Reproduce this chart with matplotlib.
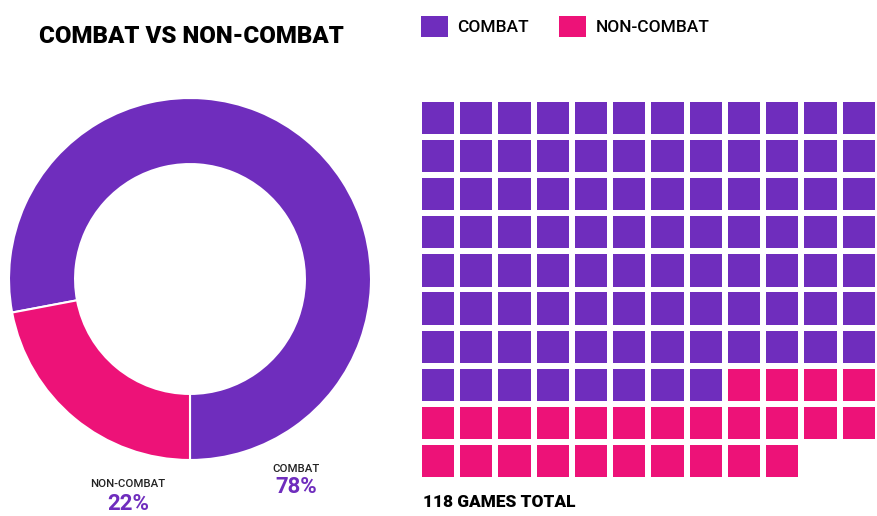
import matplotlib
matplotlib.use("Agg")
import matplotlib.pyplot as plt
from matplotlib.patches import Patch, Rectangle

# --- data ---
categories = ["COMBAT", "NON-COMBAT"]
game_counts = [92, 26]
colors = ["#6F2DBD", "#ED1278"]
grid_columns = 12
total_label = "118 GAMES TOTAL"
title = "COMBAT VS NON-COMBAT"

W, H = 878, 516
fig = plt.figure(figsize=(W / 100, H / 100), dpi=100)
fig.patch.set_facecolor("white")


def px(x, y):
    # pixel position (from top-left) -> figure fraction
    return x / W, 1 - y / H


def box(x0, y0, x1, y1):
    return [x0 / W, 1 - y1 / H, (x1 - x0) / W, (y1 - y0) / H]


heading_font = dict(family=["Roboto", "DejaVu Sans"], weight="black")
label_font = dict(family=["Roboto", "DejaVu Sans"], weight="medium")


def fit_text(x, y, s, target_w, **kw):
    # size the heading so it spans the same width as in the original
    t = fig.text(*px(x, y), s, va="baseline", fontsize=30, **heading_font, **kw)
    w = t.get_window_extent(renderer=fig.canvas.get_renderer()).width
    t.set_fontsize(30 * target_w / w)
    return t


# --- title ---
fit_text(39, 43, title, 304, color="black")

# --- legend ---
handles = [Patch(facecolor=c, edgecolor="none") for c in colors]
fig.legend(handles, categories, loc="upper left", bbox_to_anchor=px(421, 15.5), ncol=2,
           frameon=False, borderpad=0, borderaxespad=0, handlelength=1.55, handleheight=1.55,
           handletextpad=0.55, columnspacing=1.75, prop=dict(size=12.5, **label_font))

# --- donut ---
ax_d = fig.add_axes(box(9, 98, 371, 460))
ax_d.pie(game_counts, colors=colors, startangle=270, counterclock=True, radius=1,
         wedgeprops=dict(width=0.365, edgecolor="white", linewidth=1.5))
ax_d.set_xlim(-1, 1)
ax_d.set_ylim(-1, 1)
ax_d.set_aspect("equal")
ax_d.axis("off")

total = sum(game_counts)
label_pos = [(296, 472, 493), (128, 487, 510)]
for name, n, (cx, y1, y2) in zip(categories, game_counts, label_pos):
    fig.text(*px(cx, y1), name, ha="center", va="baseline", fontsize=8.2, color="#222222", **label_font)
    fig.text(*px(cx, y2), f"{round(100 * n / total)}%", ha="center", va="baseline",
             fontsize=16, color=colors[0], family=["Roboto", "DejaVu Sans"], weight="bold")

# --- waffle ---
cell = 0.843
n_rows = -(-total // grid_columns)
ax_w = fig.add_axes(box(421.7, 101.7, 875, 477.3))
k = 0
for n, c in zip(game_counts, colors):
    for _ in range(n):
        row, col = divmod(k, grid_columns)
        ax_w.add_patch(Rectangle((col, row), cell, cell, facecolor=c, edgecolor="none"))
        k += 1
ax_w.set_xlim(0, grid_columns - 1 + cell)
ax_w.set_ylim(n_rows - 1 + cell, 0)
ax_w.axis("off")

fit_text(422.7, 507, total_label, 152.5, color="black")

fig.savefig("out.png", dpi=100, facecolor="white")
